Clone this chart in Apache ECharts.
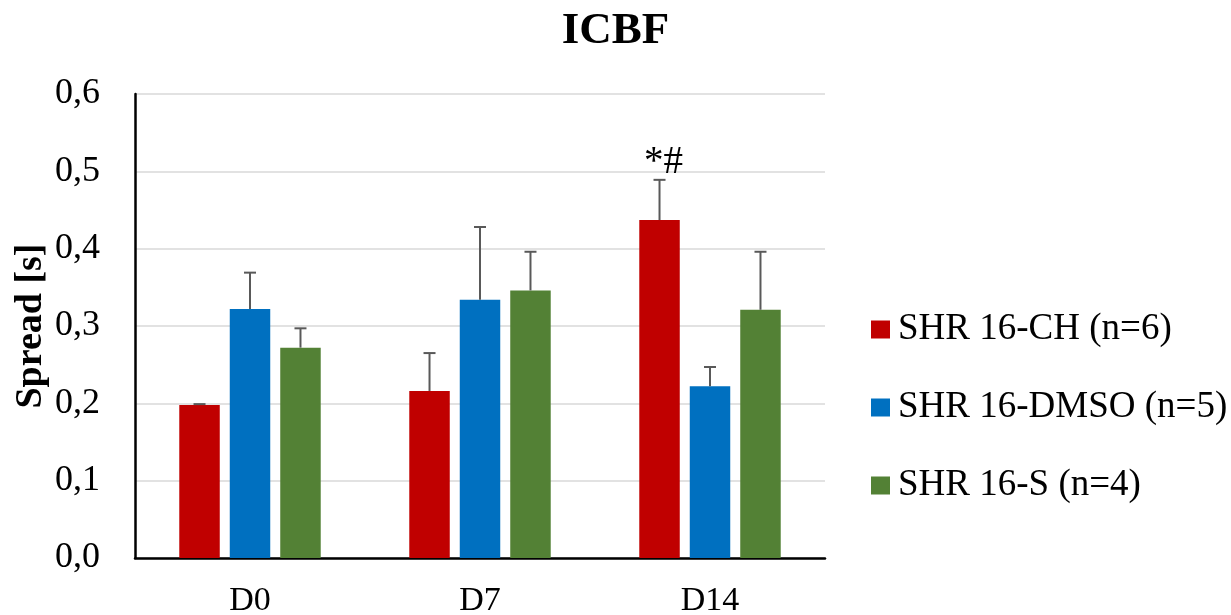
<!DOCTYPE html>
<html>
<head>
<meta charset="utf-8">
<script src="https://cdn.jsdelivr.net/npm/echarts@6/dist/echarts.min.js"></script>
<style>html,body{margin:0;padding:0;background:#fff}#c{width:1231px;height:615px}</style>
</head>
<body>
<div id="c"></div>
<script>
const categories = ['D0', 'D7', 'D14'];
const seriesNames = ['SHR 16-CH (n=6)', 'SHR 16-DMSO (n=5)', 'SHR 16-S (n=4)'];
const chValues = [0.198, 0.216, 0.437];
const chErrors = [0.001, 0.049, 0.052];
const dmsoValues = [0.322, 0.334, 0.222];
const dmsoErrors = [0.047, 0.094, 0.025];
const sValues = [0.272, 0.346, 0.321];
const sErrors = [0.025, 0.050, 0.075];
const chAnnotations = ['', '', '*#'];
const yTicks = [0, 0.1, 0.2, 0.3, 0.4, 0.5, 0.6];

const colors = ['#C00000', '#0070C0', '#538135'];
const FONT = '"Liberation Serif", "Times New Roman", serif';
const BAR_GAP = 0.247;
const CAT_GAP = 0.385;

const values = [chValues, dmsoValues, sValues];
const errors = [chErrors, dmsoErrors, sErrors];
const annotations = [chAnnotations, ['', '', ''], ['', '', '']];

function makeErrorSeries(si) {
  const data = categories.map((c, i) => [i, values[si][i], errors[si][i], annotations[si][i]]);
  return {
    type: 'custom',
    name: seriesNames[si],
    data: data,
    z: 5,
    silent: true,
    renderItem: function (params, api) {
      const idx = api.value(0);
      const v = api.value(1);
      const e = api.value(2);
      const ann = data[params.dataIndex][3];
      const band = api.size([1, 0])[0];
      const n = 3;
      const usable = band * (1 - CAT_GAP);
      const bw = usable / (n + (n - 1) * BAR_GAP);
      const gap = bw * BAR_GAP;
      const offset = -usable / 2 + si * (bw + gap) + bw / 2;
      const p0 = api.coord([idx, v]);
      const p1 = api.coord([idx, v + e]);
      const x = p0[0] + offset;
      const cap = 6;
      const style = { stroke: '#595959', lineWidth: 2 };
      const children = [
        { type: 'line', shape: { x1: x, y1: p0[1], x2: x, y2: p1[1] }, style: style },
        { type: 'line', shape: { x1: x - cap, y1: p1[1], x2: x + cap, y2: p1[1] }, style: style }
      ];
      if (ann) {
        children.push({
          type: 'text',
          style: { text: ann, x: x + 4, y: p1[1] + 2, align: 'center', verticalAlign: 'bottom',
                   font: '39px ' + FONT, fill: '#000' }
        });
      }
      return { type: 'group', children: children };
    }
  };
}

const barSeries = seriesNames.map((name, si) => ({
  type: 'bar',
  name: name,
  data: values[si],
  barGap: (BAR_GAP * 100) + '%',
  barCategoryGap: (CAT_GAP * 100) + '%',
  itemStyle: { color: colors[si] },
  z: 2
}));

const chart = echarts.init(document.getElementById('c'));
chart.setOption({
  animation: false,
  color: colors,
  title: {
    text: 'ICBF',
    left: 'center',
    top: 4,
    textStyle: { fontFamily: FONT, fontSize: 45, fontWeight: 'bold', color: '#000' }
  },
  legend: {
    orient: 'vertical',
    left: 866,
    top: 306,
    itemWidth: 19,
    itemHeight: 18,
    itemGap: 41,
    icon: 'rect',
    data: seriesNames,
    textStyle: { fontFamily: FONT, fontSize: 37, color: '#000', padding: [0, 0, 0, 3], lineHeight: 37 }
  },
  grid: { left: 135, right: 406, top: 94, bottom: 57, outerBoundsMode: 'none', containLabel: false },
  xAxis: {
    type: 'category',
    data: categories,
    axisLine: { lineStyle: { color: '#000', width: 2.5 } },
    axisTick: { show: false },
    axisLabel: { fontFamily: FONT, fontSize: 34, color: '#000', margin: 26 }
  },
  yAxis: {
    type: 'value',
    min: yTicks[0],
    max: yTicks[yTicks.length - 1],
    interval: 0.1,
    name: 'Spread [s]',
    nameLocation: 'middle',
    nameGap: 85,
    nameMoveOverlap: false,
    nameTextStyle: { fontFamily: FONT, fontSize: 38, fontWeight: 'bold', color: '#000' },
    axisLine: { show: true, lineStyle: { color: '#000', width: 2.5 } },
    axisTick: { show: false },
    splitLine: { lineStyle: { color: '#d9d9d9', width: 1.5 } },
    axisLabel: {
      fontFamily: FONT, fontSize: 36, color: '#000', margin: 35,
      formatter: v => v.toFixed(1).replace('.', ',')
    }
  },
  series: barSeries.concat([0, 1, 2].map(makeErrorSeries))
});
</script>
</body>
</html>
